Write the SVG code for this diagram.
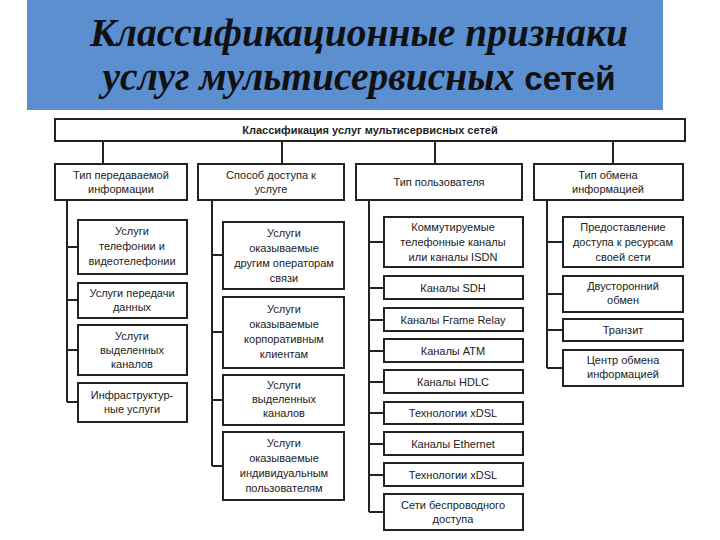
<svg xmlns="http://www.w3.org/2000/svg" width="720" height="540" viewBox="0 0 720 540">
<style>
.b{fill:#fff;stroke:#222;stroke-width:2}
.t{font-family:"Liberation Sans",Arial,sans-serif;font-size:11px;fill:#222;text-anchor:middle}
.c{stroke:#222;stroke-width:2;fill:none}
</style>
<rect width="720" height="540" fill="#fff"/>
<rect x="27" y="0" width="636" height="110" fill="#5b8fd0"/>
<text x="359" y="46" text-anchor="middle" font-family="Liberation Serif,serif" font-style="italic" font-weight="bold" font-size="39.5" fill="#111">Классификационные признаки</text>
<text x="359" y="90" text-anchor="middle" font-family="Liberation Serif,serif" font-style="italic" font-weight="bold" font-size="39.5" fill="#111">услуг мультисервисных <tspan font-family="Liberation Sans,sans-serif" font-style="normal" font-size="33">сетей</tspan></text>
<g id="connectors">
<path class="c" d="M103 141V164M282 141V164M435 141V164M613 141V164"/>
<path class="c" d="M67 201V402M67 247H78M67 300H78M67 350H78M67 402H78"/>
<path class="c" d="M212 199V466M212 255H223M212 332H223M212 400H223M212 466H223"/>
<path class="c" d="M369 199V512M369 242H384M369 288H384M369 320H384M369 351H384M369 382H384M369 413H384M369 444H384M369 475H384M369 512H384"/>
<path class="c" d="M547 199V368M547 242H563M547 294H563M547 330H563M547 368H563"/>
</g>
<g id="root"><rect class="b" x="55" y="119" width="630" height="22"/><text class="t" x="370" y="134" font-weight="bold">Классификация услуг мультисервисных сетей</text></g>
<g id="c1"><rect class="b" x="55" y="164" width="132" height="36"/><text class="t" x="121" y="179">Тип передаваемой</text><text class="t" x="121" y="193">информации</text></g>
<g id="c2"><rect class="b" x="198" y="164" width="146" height="36"/><text class="t" x="271" y="179">Способ доступа к</text><text class="t" x="271" y="193">услуге</text></g>
<g id="c3"><rect class="b" x="356" y="164" width="166" height="36"/><text class="t" x="439" y="186">Тип пользователя</text></g>
<g id="c4"><rect class="b" x="534" y="164" width="149" height="36"/><text class="t" x="608" y="179">Тип обмена</text><text class="t" x="608" y="193">информацией</text></g>

<g id="a1"><rect class="b" x="78" y="220" width="109" height="54"/><text class="t" x="132" y="235">Услуги</text><text class="t" x="132" y="250">телефонии и</text><text class="t" x="132" y="265">видеотелефонии</text></g>
<g id="a2"><rect class="b" x="78" y="283" width="109" height="35"/><text class="t" x="132" y="297">Услуги  передачи</text><text class="t" x="132" y="311">данных</text></g>
<g id="a3"><rect class="b" x="78" y="325" width="109" height="50"/><text class="t" x="132" y="340">Услуги</text><text class="t" x="132" y="354">выделенных</text><text class="t" x="132" y="368">каналов</text></g>
<g id="a4"><rect class="b" x="78" y="383" width="109" height="39"/><text class="t" x="132" y="399">Инфраструктур-</text><text class="t" x="132" y="413">ные услуги</text></g>

<g id="b1"><rect class="b" x="223" y="222" width="121" height="67"/><text class="t" x="284" y="237">Услуги</text><text class="t" x="284" y="252">оказываемые</text><text class="t" x="284" y="267">другим операторам</text><text class="t" x="284" y="282">связи</text></g>
<g id="b2"><rect class="b" x="223" y="297" width="121" height="71"/><text class="t" x="284" y="313">Услуги</text><text class="t" x="284" y="328">оказываемые</text><text class="t" x="284" y="343">корпоративным</text><text class="t" x="284" y="358">клиентам</text></g>
<g id="b3"><rect class="b" x="223" y="375" width="121" height="50"/><text class="t" x="284" y="389">Услуги</text><text class="t" x="284" y="403">выделенных</text><text class="t" x="284" y="417">каналов</text></g>
<g id="b4"><rect class="b" x="223" y="432" width="121" height="68"/><text class="t" x="284" y="447">Услуги</text><text class="t" x="284" y="462">оказываемые</text><text class="t" x="284" y="477">индивидуальным</text><text class="t" x="284" y="492">пользователям</text></g>

<g id="d1"><rect class="b" x="384" y="217" width="139" height="50"/><text class="t" x="453" y="231">Коммутируемые</text><text class="t" x="453" y="246">телефонные каналы</text><text class="t" x="453" y="261">или каналы ISDN</text></g>
<g id="d2"><rect class="b" x="384" y="276" width="139" height="23"/><text class="t" x="453" y="292">Каналы SDH</text></g>
<g id="d3"><rect class="b" x="384" y="308" width="139" height="23"/><text class="t" x="453" y="324">Каналы Frame Relay</text></g>
<g id="d4"><rect class="b" x="384" y="339" width="139" height="23"/><text class="t" x="453" y="355">Каналы ATM</text></g>
<g id="d5"><rect class="b" x="384" y="370" width="139" height="23"/><text class="t" x="453" y="386">Каналы HDLC</text></g>
<g id="d6"><rect class="b" x="384" y="402" width="139" height="22"/><text class="t" x="453" y="417">Технологии xDSL</text></g>
<g id="d7"><rect class="b" x="384" y="432" width="139" height="23"/><text class="t" x="453" y="448">Каналы Ethernet</text></g>
<g id="d8"><rect class="b" x="384" y="463" width="139" height="23"/><text class="t" x="453" y="479">Технологии xDSL</text></g>
<g id="d9"><rect class="b" x="384" y="494" width="139" height="36"/><text class="t" x="453" y="509">Сети беспроводного</text><text class="t" x="453" y="523">доступа</text></g>

<g id="e1"><rect class="b" x="563" y="217" width="120" height="50"/><text class="t" x="623" y="231">Предоставление</text><text class="t" x="623" y="246">доступа к ресурсам</text><text class="t" x="623" y="261">своей сети</text></g>
<g id="e2"><rect class="b" x="563" y="276" width="120" height="36"/><text class="t" x="623" y="290">Двусторонний</text><text class="t" x="623" y="304">обмен</text></g>
<g id="e3"><rect class="b" x="563" y="319" width="120" height="22"/><text class="t" x="623" y="334">Транзит</text></g>
<g id="e4"><rect class="b" x="563" y="350" width="120" height="36"/><text class="t" x="623" y="364">Центр обмена</text><text class="t" x="623" y="378">информацией</text></g>
</svg>
